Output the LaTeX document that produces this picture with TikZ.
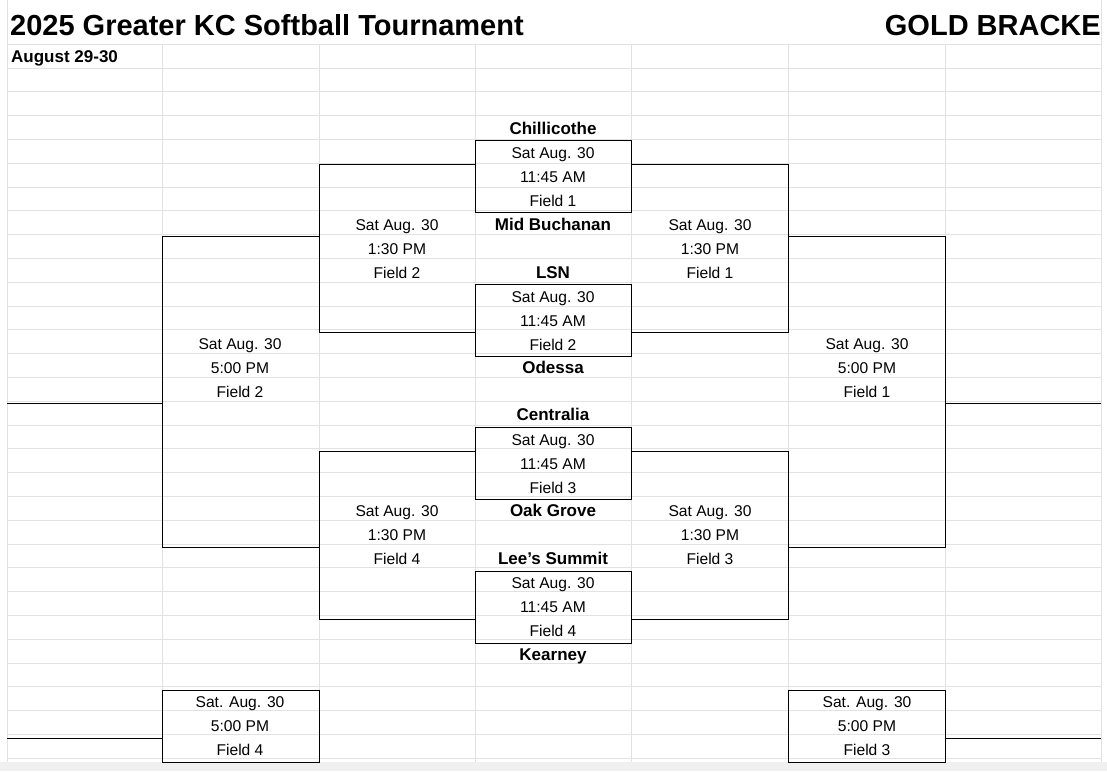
\documentclass[tikz,border=0pt]{standalone}
\usepackage{fontspec}
\setmainfont{Liberation Sans}
\definecolor{grid}{HTML}{E2E2E2}
\begin{document}
\begin{tikzpicture}[x=1pt,y=-1pt,
  gl/.style={grid,line width=0.8pt},
  bl/.style={black,line width=0.9pt},
  t/.style={font=\fontsize{15.6}{17}\selectfont,inner sep=0pt,anchor=base},
  tb/.style={font=\fontsize{17}{19}\selectfont\bfseries,inner sep=0pt,anchor=base}]
\useasboundingbox (0,0) rectangle (1107,771);
\fill[white] (0,0) rectangle (1107,771);
\fill[grid!50] (0,762) rectangle (1107,771);
% grid
\foreach \k in {0,...,29}{\draw[gl] (7,{68+23.8*\k}) -- (1101,{68+23.8*\k});}
\draw[gl] (7,44) -- (1101,44);
\foreach \x in {162,319,475,631,788,945}{\draw[gl] (\x,44) -- (\x,762);}
\draw[gl] (7,0) -- (7,762);
\draw[gl] (1101,0) -- (1101,762);
% titles
\node[anchor=base west,font=\fontsize{29}{31}\selectfont\bfseries,inner sep=0pt] (title) at (10,35) {2025 Greater KC Softball Tournament};
\node[anchor=base east,font=\fontsize{29}{31}\selectfont\bfseries,inner sep=0pt] (gold) at (1101,35) {GOLD BRACKE};
\node[anchor=base west,font=\fontsize{17}{19}\selectfont\bfseries,inner sep=0pt] (date) at (11,62) {August 29-30};
% boxes
\draw[bl] (475,140) rectangle (631,212);
\draw[bl] (475,284) rectangle (631,356);
\draw[bl] (475,427) rectangle (631,499);
\draw[bl] (475,571) rectangle (631,643);
\draw[bl] (162,690) rectangle (319,762);
\draw[bl] (788,690) rectangle (945,762);
% brackets
\draw[bl] (475,164) -- (319,164) -- (319,332) -- (475,332);
\draw[bl] (631,164) -- (788,164) -- (788,332) -- (631,332);
\draw[bl] (475,451) -- (319,451) -- (319,619) -- (475,619);
\draw[bl] (631,451) -- (788,451) -- (788,619) -- (631,619);
\draw[bl] (319,236) -- (162,236) -- (162,547) -- (319,547);
\draw[bl] (788,236) -- (945,236) -- (945,547) -- (788,547);
\draw[bl] (7,403) -- (162,403);
\draw[bl] (945,403) -- (1101,403);
\draw[bl] (7,738) -- (162,738);
\draw[bl] (945,738) -- (1101,738);
% teams
\foreach \n/\y/\s in {t1/128/Chillicothe,t2/224/Mid Buchanan,t3/272/LSN,t4/367/Odessa,t5/414/Centralia,t6/510/Oak Grove,t7/558/Lee{\char"27}s Summit,t8/654/Kearney}
  {\node[tb] (\n) at (553,\y+6) {\s};}
% games
\newcommand{\gm}[6]{\node[t] (#1a) at (#2,#3+5.5) {#4};
  \node[t] (#1b) at (#2,#3+29.3) {#5};
  \node[t] (#1c) at (#2,#3+53.1) {#6};}
\gm{g1}{553}{153}{Sat Aug. 30}{11:45 AM}{Field 1}
\gm{g2}{553}{297}{Sat Aug. 30}{11:45 AM}{Field 2}
\gm{g3}{553}{440}{Sat Aug. 30}{11:45 AM}{Field 3}
\gm{g4}{553}{583}{Sat Aug. 30}{11:45 AM}{Field 4}
\gm{g5}{397}{225}{Sat Aug. 30}{1:30 PM}{Field 2}
\gm{g6}{710}{225}{Sat Aug. 30}{1:30 PM}{Field 1}
\gm{g7}{397}{511}{Sat Aug. 30}{1:30 PM}{Field 4}
\gm{g8}{710}{511}{Sat Aug. 30}{1:30 PM}{Field 3}
\gm{g9}{240}{344}{Sat Aug. 30}{5:00 PM}{Field 2}
\gm{g10}{867}{344}{Sat Aug. 30}{5:00 PM}{Field 1}
\gm{g11}{240}{702}{Sat. Aug. 30}{5:00 PM}{Field 4}
\gm{g12}{867}{702}{Sat. Aug. 30}{5:00 PM}{Field 3}
\end{tikzpicture}
\end{document}
